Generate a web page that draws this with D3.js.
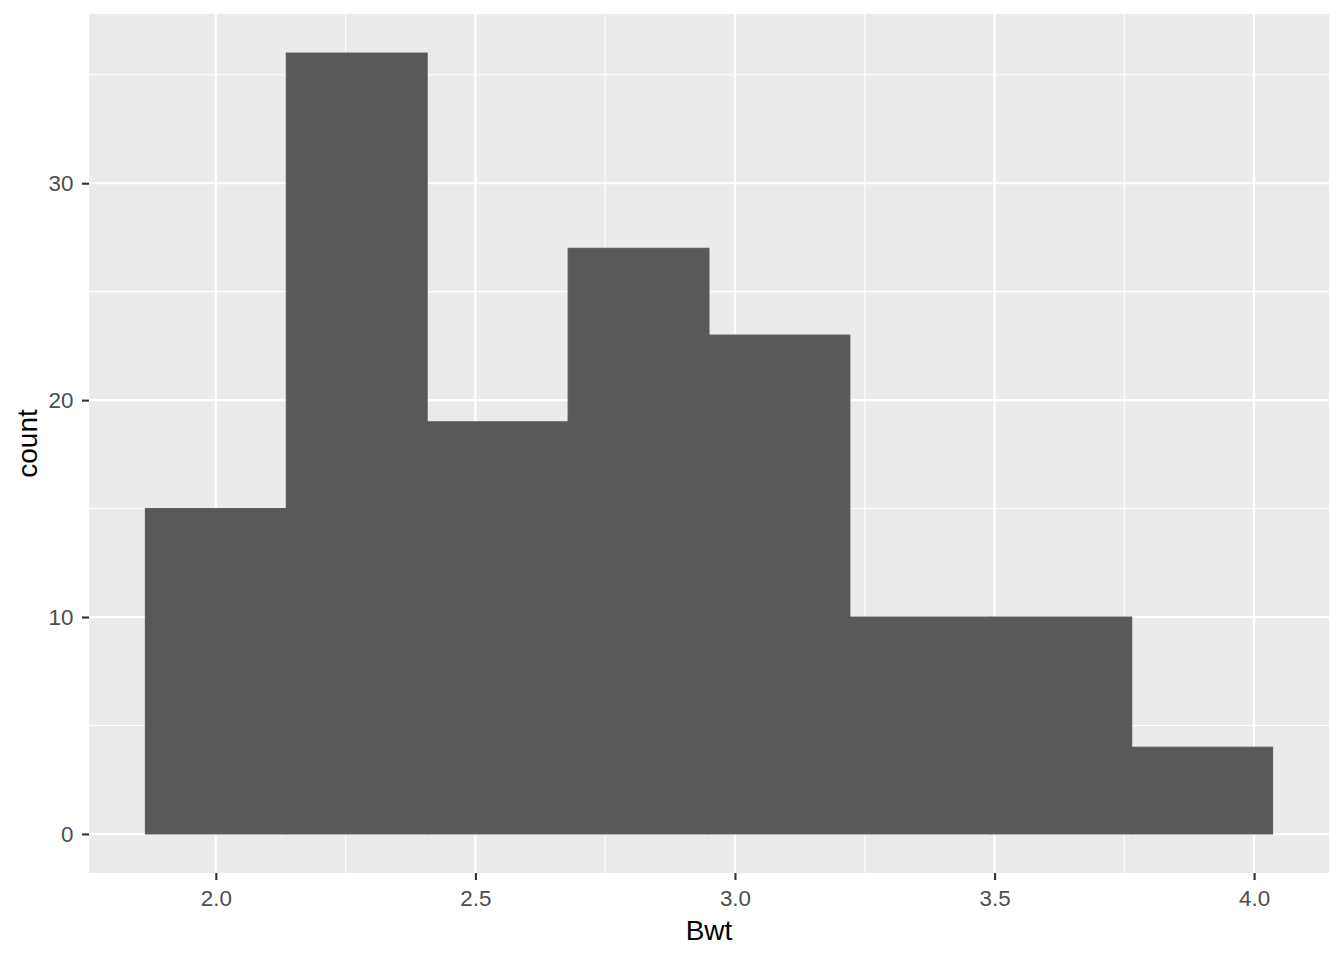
<!DOCTYPE html>
<html><head><meta charset="utf-8">
<script src="https://cdn.jsdelivr.net/npm/d3@7"></script>
<style>body{margin:0;background:#fff}svg{display:block}text{font-family:"Liberation Sans",Arial,sans-serif}</style>
</head><body>
<svg id="c" width="1344" height="960"></svg>
<script>
const binCenters = [2.0, 2.2714, 2.5429, 2.8143, 3.0857, 3.3571, 3.6286, 3.9];
const counts = [15, 36, 19, 27, 23, 10, 10, 4];
const binWidth = 0.27143;
const xTicks = [2.0, 2.5, 3.0, 3.5, 4.0];
const yTicks = [0, 10, 20, 30];
const xMinor = [2.25, 2.75, 3.25, 3.75];
const yMinor = [5, 15, 25, 35];

const svg = d3.select("#c");
const L = 89, R = 1329, T = 14, B = 873;
const xmin = binCenters[0] - binWidth/2, xmax = binCenters[binCenters.length-1] + binWidth/2;
const xr = xmax - xmin;
const x = d3.scaleLinear().domain([xmin - 0.05*xr, xmax + 0.05*xr]).range([L, R]);
const ymax = d3.max(counts);
const y = d3.scaleLinear().domain([-0.05*ymax, ymax*1.05]).range([B, T]);

svg.append("rect").attr("x", L).attr("y", T).attr("width", R-L).attr("height", B-T).attr("fill", "#EBEBEB");
const g = svg.append("g");
g.selectAll(".xm").data(xMinor).join("line").attr("x1", d=>x(d)).attr("x2", d=>x(d)).attr("y1", T).attr("y2", B).attr("stroke", "#fff").attr("stroke-width", 1.07);
g.selectAll(".ym").data(yMinor).join("line").attr("y1", d=>y(d)).attr("y2", d=>y(d)).attr("x1", L).attr("x2", R).attr("stroke", "#fff").attr("stroke-width", 1.07);
g.selectAll(".xM").data(xTicks).join("line").attr("x1", d=>x(d)).attr("x2", d=>x(d)).attr("y1", T).attr("y2", B).attr("stroke", "#fff").attr("stroke-width", 2.13);
g.selectAll(".yM").data(yTicks).join("line").attr("y1", d=>y(d)).attr("y2", d=>y(d)).attr("x1", L).attr("x2", R).attr("stroke", "#fff").attr("stroke-width", 2.13);

svg.selectAll(".bar").data(counts).join("rect")
  .attr("x", (d,i)=>x(binCenters[i]-binWidth/2))
  .attr("width", (d,i)=>x(binCenters[i]+binWidth/2)-x(binCenters[i]-binWidth/2))
  .attr("y", d=>y(d)).attr("height", d=>y(0)-y(d))
  .attr("fill", "#595959").attr("stroke", "#595959").attr("stroke-width", 1);

const xa = svg.append("g").attr("transform", `translate(0,${B})`)
  .call(d3.axisBottom(x).tickValues(xTicks).tickFormat(d3.format(".1f")).tickSize(7).tickPadding(5.6));
const ya = svg.append("g").attr("transform", `translate(${L},0)`)
  .call(d3.axisLeft(y).tickValues(yTicks).tickSize(7).tickPadding(8.5));
[xa, ya].forEach(a => {
  a.select(".domain").remove();
  a.selectAll(".tick line").attr("stroke", "#333").attr("stroke-width", 2.13);
  a.selectAll(".tick text").attr("fill", "#4D4D4D").style("font-size", "22.4px").style("font-family", '"Liberation Sans",Arial,sans-serif');
});
xa.selectAll(".tick text").attr("y", 32.6).attr("dy", 0);

svg.append("text").attr("x", (L+R)/2).attr("y", 940).attr("text-anchor", "middle").attr("fill", "#000").style("font-size", "28px").text("Bwt");
svg.append("text").attr("transform", `translate(37,${(T+B)/2}) rotate(-90)`).attr("text-anchor", "middle").attr("fill", "#000").style("font-size", "28px").text("count");
</script>
</body></html>
